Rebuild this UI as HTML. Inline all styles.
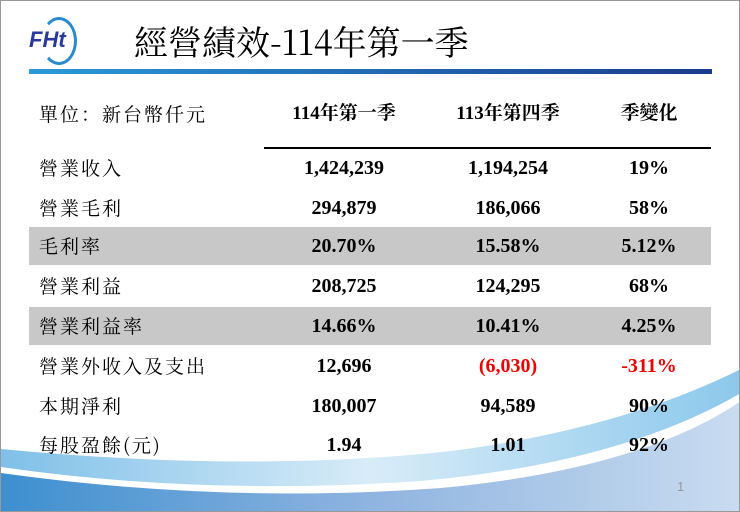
<!DOCTYPE html>
<html><head><meta charset="utf-8"><style>
body{margin:0}
#s{position:relative;width:738px;height:510px;border:1px solid #999;background:#fff;overflow:hidden;font-family:"Liberation Serif","Noto Serif CJK SC",serif}
.t{position:absolute;white-space:nowrap;line-height:24px;height:24px}
.lab{left:38px;font-size:19px;color:#000;letter-spacing:2px;font-family:"Noto Serif CJK SC","Liberation Serif",serif}
.c{font-size:20px;font-weight:bold;transform:translateX(-50%)}
.band{position:absolute;left:28px;width:682px;height:38px;background:#c8c8c8}
</style></head><body>
<div id="s">
<svg width="740" height="512" style="position:absolute;left:0;top:0">
<defs>
<linearGradient id="g1" x1="0" x2="1"><stop offset="0" stop-color="#3d8fcf"/><stop offset="0.5" stop-color="#8fb4e0"/><stop offset="1" stop-color="#c9dcf0"/></linearGradient>
<linearGradient id="g2" x1="0" x2="1"><stop offset="0" stop-color="#7fc0e8"/><stop offset="0.5" stop-color="#d8ecf8"/><stop offset="1" stop-color="#8cc8ec"/></linearGradient>
</defs>
<path d="M0,448 Q250,472 450,450 Q620,428 740,368 L740,512 L0,512Z" fill="url(#g2)"/>
<path d="M0,466 Q200,495 420,480 Q620,462 740,392 L740,512 L0,512Z" fill="#fff"/>
<path d="M0,472 Q220,503 440,487 Q640,468 740,400 L740,512 L0,512Z" fill="url(#g1)"/>
</svg>
<div class="t" style="left:28px;top:26px;font:italic bold 22px 'Liberation Sans',sans-serif;color:#2a3a9c">FHt</div>
<div style="position:absolute;left:40px;top:16px;width:30px;height:42px;border:3px solid #2a8ad0;border-left-color:transparent;border-radius:50%"></div>
<div class="t" style="left:133px;top:20px;line-height:40px;height:40px;font-size:34px;font-family:'Noto Serif CJK SC','Liberation Serif',serif">經營績效-114年第一季</div>
<div style="position:absolute;left:28px;top:68px;width:683px;height:5px;background:linear-gradient(90deg,#2a9ad8,#1a3c8c)"></div>
<div class="band" style="top:226px"></div>
<div class="band" style="top:306px"></div>
<div style="position:absolute;left:263px;top:146px;width:447px;height:2px;background:#000"></div>
<div id="tbl"></div>
<div class="t" style="left:676px;top:478px;font:13px 'Liberation Sans',sans-serif;color:#999">1</div>
</div>
<script>
const labels=["營業收入","營業毛利","毛利率","營業利益","營業利益率","營業外收入及支出","本期淨利","每股盈餘(元)"];
const q1=["1,424,239","294,879","20.70%","208,725","14.66%","12,696","180,007","1.94"];
const q4=["1,194,254","186,066","15.58%","124,295","10.41%","(6,030)","94,589","1.01"];
const chg=["19%","58%","5.12%","68%","4.25%","-311%","90%","92%"];
const headers=["114年第一季","113年第四季","季變化"];
const tbl=document.getElementById('tbl');
const cx=[343,507,648];
function add(txt,cls,left,top,color,name){
 const d=document.createElement('div');
 d.className='t '+cls;d.textContent=txt;
 if(left!==null)d.style.left=left+'px';
 d.style.top=top+'px';if(color)d.style.color=color;
 
 
 tbl.appendChild(d);
 return d;
}
add("單位：新台幣仟元","lab",null,101,null,"unit-label");
headers.forEach((h,i)=>{const d=add(h,"c",cx[i],101,null,"column-header");d.style.fontFamily="'Liberation Serif','Noto Serif CJK SC',serif";d.style.fontSize='19px';});
const ys=[167,207,245,285,325,365,405,444];
labels.forEach((l,i)=>{
 const y=ys[i]-12;
 add(l,"lab",null,y,null,"row-label");
 add(q1[i],"c",cx[0],y,null,"value-114q1");
 const neg=q4[i].startsWith('(');
 add(q4[i],"c",cx[1],y,neg?"#e00":null,"value-113q4");
 add(chg[i],"c",cx[2],y,chg[i].startsWith('-')?"#e00":null,"value-change");
});
</script>
</body></html>
